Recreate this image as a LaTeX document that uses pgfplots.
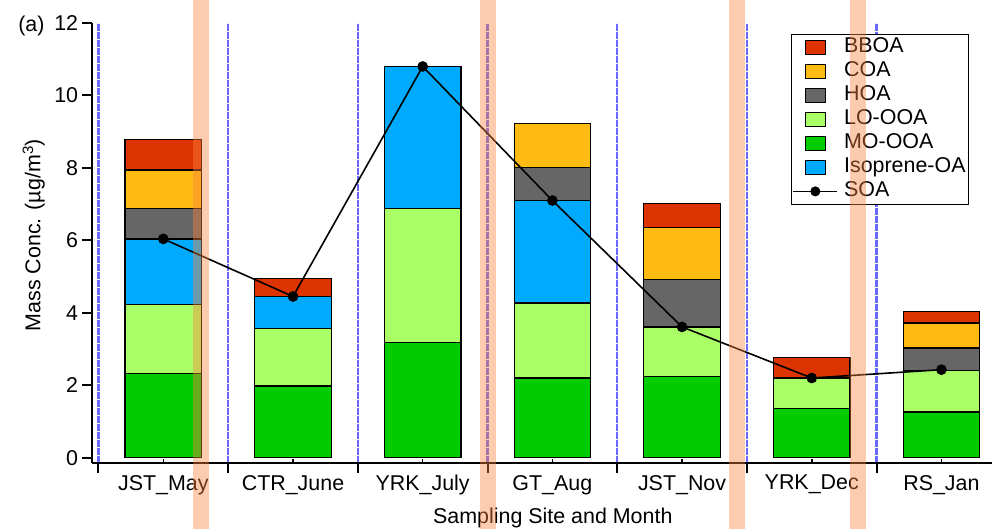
\documentclass[border=0pt]{standalone}
\usepackage{fontspec}
\setmainfont{Liberation Sans}
\usepackage{pgfplots}
\usepackage{pgfplotstable}
\pgfplotsset{compat=1.18}

\definecolor{bboa}{RGB}{221,51,0}
\definecolor{coa}{RGB}{255,187,17}
\definecolor{hoa}{RGB}{102,102,102}
\definecolor{looa}{RGB}{170,255,102}
\definecolor{moooa}{RGB}{0,204,0}
\definecolor{iso}{RGB}{0,170,255}
\definecolor{gridblue}{RGB}{105,105,255}
\definecolor{band}{RGB}{250,130,60}

\newcommand{\bigf}{\fontsize{21.5}{24}\selectfont}

\pgfplotsset{
  sq/.style={legend image code/.code={\draw[##1, draw=black, line width=1bp] (-10bp,-7.3bp) rectangle (10bp,7.3bp);}},
  soaleg/.style={legend image code/.code={\draw[black, line width=1.6bp] (-22bp,0bp) -- (22bp,0bp); \fill[black] (0bp,0bp) circle (4.6bp);}},
}

\pgfplotstableread{
x MO LO Iso HOA COA BBOA SOA
0 2.32 1.90 1.82 0.84 1.06 0.85 6.04
1 1.98 1.59 0.88 0 0 0.49 4.45
2 3.18 3.71 3.91 0 0 0 10.80
3 2.20 2.07 2.83 0.92 1.20 0 7.10
4 2.24 1.37 0 1.31 1.43 0.67 3.61
5 1.35 0.85 0 0 0 0.57 2.20
6 1.26 1.15 0 0.62 0.69 0.31 2.43
}\data

\begin{document}
\begin{tikzpicture}
\useasboundingbox (-92bp,-66bp) rectangle (900bp,463bp);
\begin{axis}[
  at={(0bp,0bp)}, anchor=south west,
  scale only axis, width=900bp, height=440bp,
  xmin=-0.55, xmax=6.39, ymin=-0.146, ymax=12,
  ybar stacked, bar width=76.5bp,
  axis lines=left,
  axis line style={-, line width=2.4bp, black},
  tick align=outside, major tick length=10bp,
  tick style={black, line width=2bp},
  xtick={-0.5,0.5,...,5.5}, xticklabels={},
  xmajorgrids,
  major grid style={gridblue, line width=2.5bp, dash pattern=on 7bp off 1bp},
  extra x ticks={0,1,2,3,4,5,6},
  extra x tick labels={JST\_May, CTR\_June, YRK\_July, GT\_Aug, JST\_Nov, YRK\_Dec, RS\_Jan},
  extra x tick style={grid=none, major tick length=4bp, tick style={yshift=4bp, line width=1.5bp}},
  ytick={0,2,...,12},
  /pgf/number format/assume math mode=true,
  tick label style={font=\bigf},
  yticklabel style={inner sep=3.7bp},
  xticklabel style={inner sep=2bp, yshift=-6bp},
  xlabel={Sampling Site and Month},
  ylabel={Mass Conc. (µg/m\textsuperscript{3})},
  label style={font=\bigf},
  xlabel style={at={(axis description cs:0.512,0)}, anchor=base, yshift=-60bp},
  ylabel style={at={([xshift=-51.5bp]axis description cs:0,0.518)}, anchor=base, rotate=0},
  legend style={at={(0.9744,0.975)}, anchor=north east, draw=black, line width=0.8bp,
    fill=white, font=\bigf, inner sep=1bp, row sep=0pt, column sep=4bp,
    nodes={inner sep=2bp, text height=15.5bp, text depth=4.5bp}},
  legend cell align=left,
  clip=false,
]
\addplot[fill=moooa, draw=black, line width=1.2bp, forget plot] table[x=x,y=MO]{\data};
\addplot[fill=looa, draw=black, line width=1.2bp, forget plot] table[x=x,y=LO]{\data};
\addplot[fill=iso, draw=black, line width=1.2bp, forget plot] table[x=x,y=Iso]{\data};
\addplot[fill=hoa, draw=black, line width=1.2bp, forget plot] table[x=x,y=HOA]{\data};
\addplot[fill=coa, draw=black, line width=1.2bp, forget plot] table[x=x,y=COA]{\data};
\addplot[fill=bboa, draw=black, line width=1.2bp, forget plot] table[x=x,y=BBOA]{\data};

\addlegendimage{sq, fill=bboa}\addlegendentry{BBOA}
\addlegendimage{sq, fill=coa}\addlegendentry{COA}
\addlegendimage{sq, fill=hoa}\addlegendentry{HOA}
\addlegendimage{sq, fill=looa}\addlegendentry{LO-OOA}
\addlegendimage{sq, fill=moooa}\addlegendentry{MO-OOA}
\addlegendimage{sq, fill=iso}\addlegendentry{Isoprene-OA}
\addlegendimage{soaleg}\addlegendentry{SOA}

\node[anchor=base east, font=\bigf] at ([xshift=-44bp, yshift=-8.7bp]rel axis cs:0,1) {(a)};
\end{axis}
\begin{axis}[
  at={(0bp,0bp)}, anchor=south west,
  scale only axis, width=900bp, height=440bp,
  xmin=-0.55, xmax=6.39, ymin=-0.146, ymax=12,
  hide axis, clip=false,
]
\addplot[sharp plot, black, line width=1.6bp, mark=*, mark size=4.5bp, mark options={fill=black, solid}] table[x=x,y=SOA]{\data};
\end{axis}
\fill[band, opacity=0.42] (101.3bp,-66bp) rectangle (117bp,463bp);
\fill[band, opacity=0.42] (388bp,-66bp) rectangle (403.7bp,463bp);
\fill[band, opacity=0.42] (637.3bp,-66bp) rectangle (653.3bp,463bp);
\fill[band, opacity=0.42] (758bp,-66bp) rectangle (773.7bp,463bp);
\end{tikzpicture}
\end{document}
